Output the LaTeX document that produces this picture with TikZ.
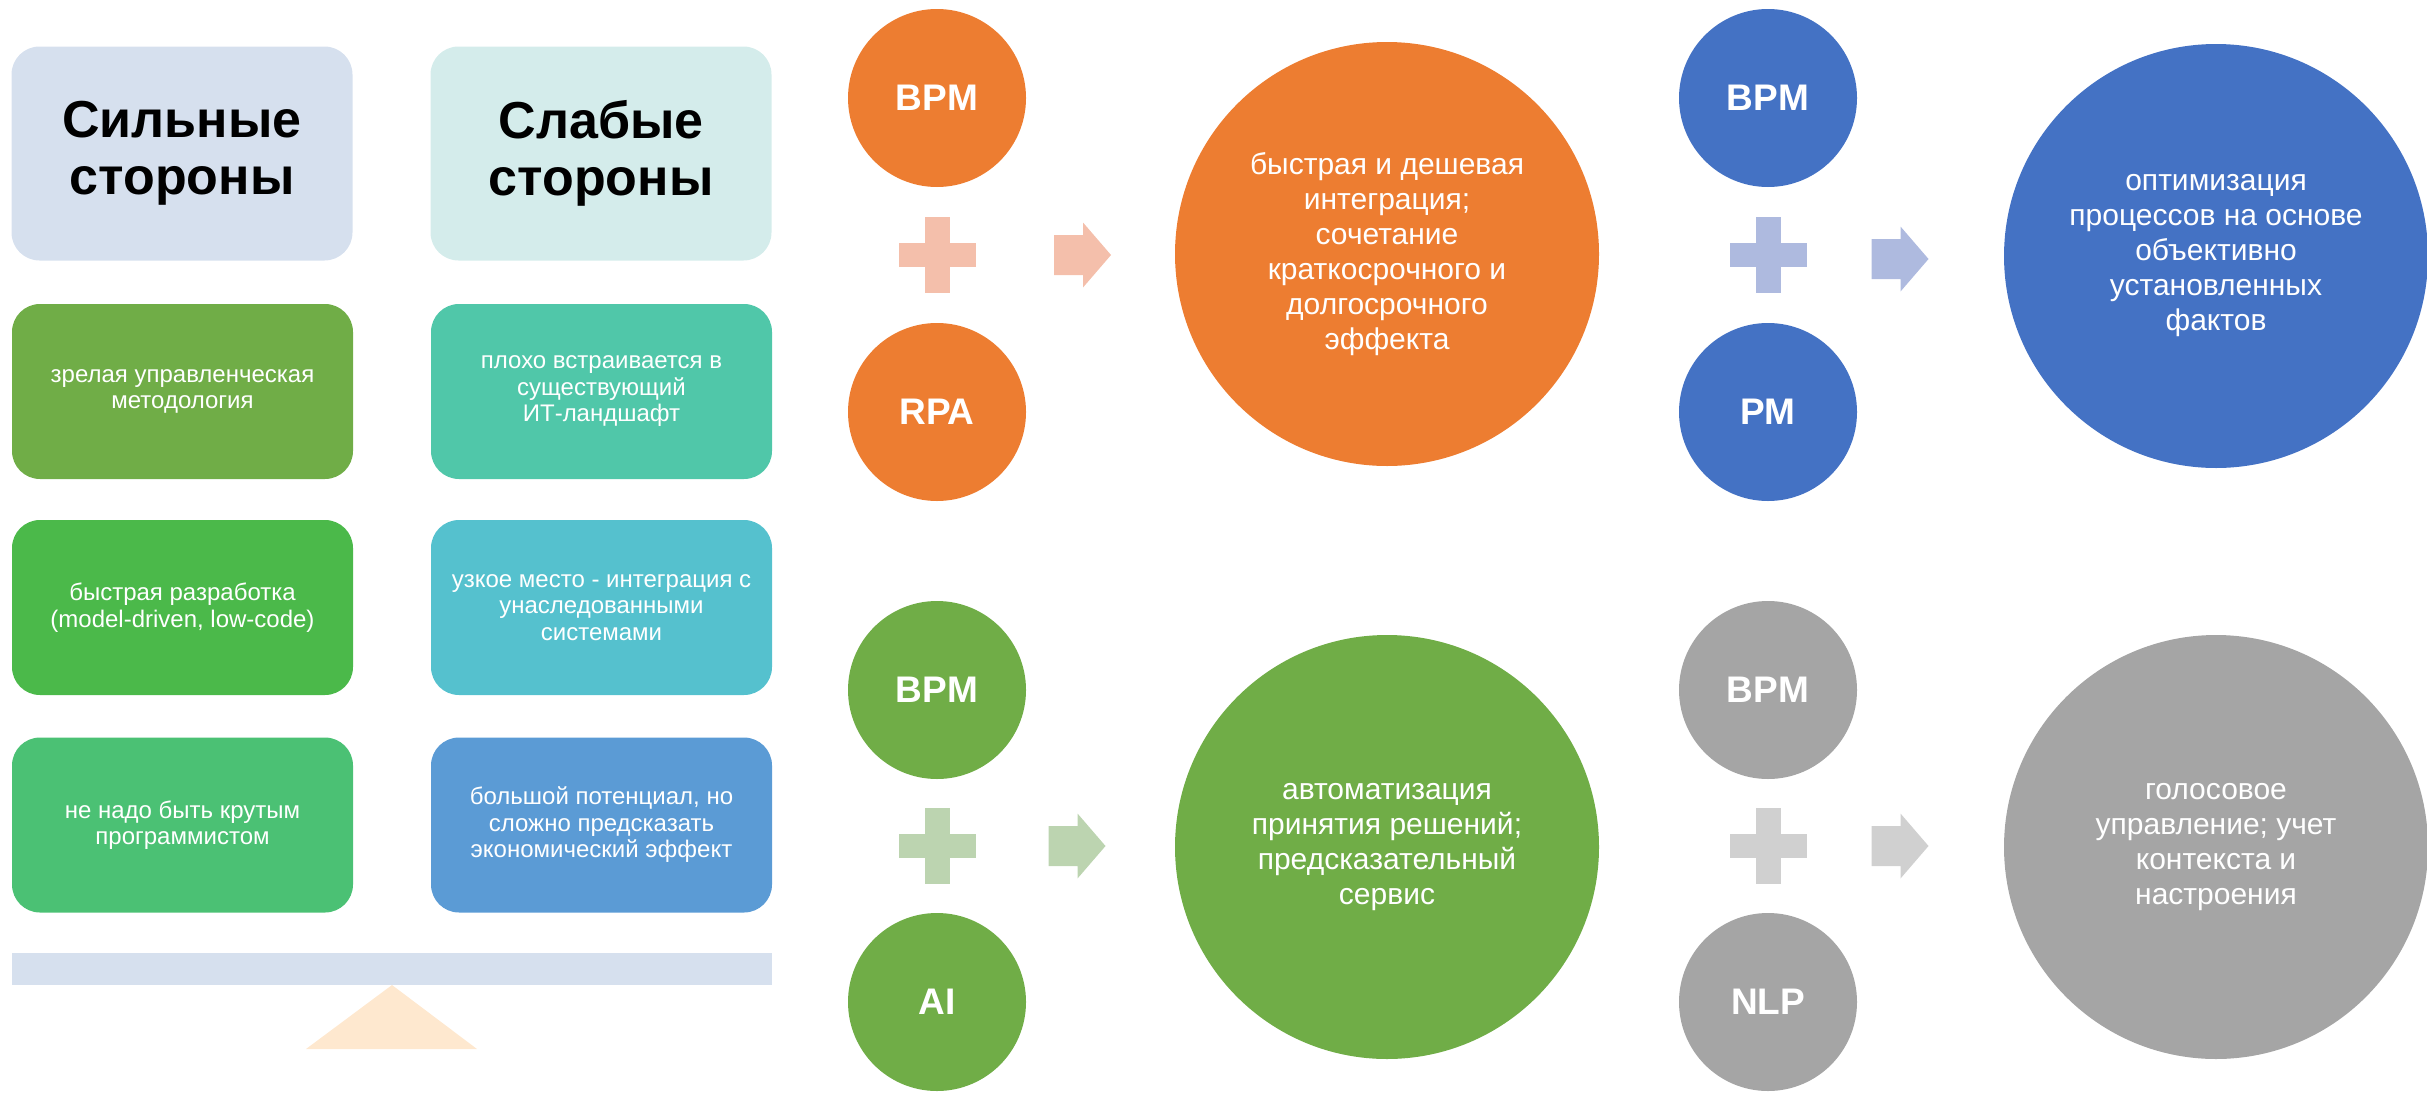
\documentclass[tikz,border=0pt]{standalone}
\usepackage{fontspec}
\setmainfont{Liberation Sans}
\definecolor{hA}{HTML}{D6E0EE}
\definecolor{hB}{HTML}{D4ECEB}
\definecolor{triC}{HTML}{FEE8CF}
\definecolor{rAL}{HTML}{70AD47}
\definecolor{rAR}{HTML}{50C7A9}
\definecolor{rBL}{HTML}{4BB94A}
\definecolor{rBR}{HTML}{55C1CE}
\definecolor{rCL}{HTML}{4BC174}
\definecolor{rCR}{HTML}{5B9BD5}
\definecolor{orn}{HTML}{ED7D31}
\definecolor{ornL}{HTML}{F4BFAB}
\definecolor{blu}{HTML}{4472C4}
\definecolor{bluL}{HTML}{AEBADF}
\definecolor{grn}{HTML}{70AD47}
\definecolor{grnL}{HTML}{BCD4B0}
\definecolor{gry}{HTML}{A5A5A5}
\definecolor{gryL}{HTML}{D0D0D0}
\begin{document}
\begin{tikzpicture}[x=1pt,y=-1pt,
  box/.style={rounded corners=28pt, inner sep=0pt, minimum width=341pt, minimum height=175pt,
    align=center, text=white, font=\fontsize{24}{26.5}\selectfont},
  headbox/.style={box, minimum height=214pt, text=black, font=\bfseries\fontsize{52}{57}\selectfont},
  smallc/.style={circle, minimum size=178pt, inner sep=0pt, text=white, font=\bfseries\fontsize{37}{42}\selectfont},
  bigc/.style={circle, minimum size=424pt, inner sep=0pt, text=white, align=center, font=\fontsize{30}{35}\selectfont},
  plus/.pic={\path[pic actions] (-38.5,-12) rectangle (38.5,12); \path[pic actions] (-12.5,-38) rectangle (12.5,38);},
  rarrow/.pic={\path[pic actions] (-28.5,-20) -- (0.5,-20) -- (0.5,-32.5) -- (28.5,0) -- (0.5,32.5) -- (0.5,20) -- (-28.5,20) -- cycle;}
]
\useasboundingbox (0,0) rectangle (2427,1092);

% left panel
\node[headbox, fill=hA] (h1) at (182,153.5) {Сильные\\стороны};
\node[headbox, fill=hB] (h2) at (601,153.5) {Слабые\\стороны};
\node[box, fill=rAL] (s1) at (182.5,391.5) {зрелая управленческая\\методология};
\node[box, fill=rAR] (w1) at (601.5,391.5) {плохо встраивается в\\существующий\\ИТ-ландшафт};
\node[box, fill=rBL] (s2) at (182.5,607.5) {быстрая разработка\\(model-driven, low-code)};
\node[box, fill=rBR] (w2) at (601.5,607.5) {узкое место - интеграция с\\унаследованными\\системами};
\node[box, fill=rCL] (s3) at (182.5,825) {не надо быть крутым\\программистом};
\node[box, fill=rCR] (w3) at (601.5,825) {большой потенциал, но\\сложно предсказать\\экономический эффект};
\fill[hA] (12,953) rectangle (772,985);
\fill[triC] (392,985) -- (477,1049) -- (306,1049) -- cycle;

% orange group
\node[smallc, fill=orn] (o1) at (937,98) {BPM};
\node[smallc, fill=orn] (o2) at (937,412) {RPA};
\pic[fill=ornL] at (937,255) {plus};
\pic[fill=ornL] at (1082.5,255) {rarrow};
\node[bigc, fill=orn] (o3) at (1387,254) {быстрая и дешевая\\интеграция;\\сочетание\\краткосрочного и\\долгосрочного\\эффекта};

% blue group
\node[smallc, fill=blu] (b1) at (1768,98) {BPM};
\node[smallc, fill=blu] (b2) at (1768,412) {PM};
\pic[fill=bluL] at (1768,255) {plus};
\pic[fill=bluL] at (1900,259) {rarrow};
\node[bigc, fill=blu] (b3) at (2216,256) {оптимизация\\процессов на основе\\объективно\\установленных\\фактов};

% green group
\node[smallc, fill=grn] (g1) at (937,690) {BPM};
\node[smallc, fill=grn] (g2) at (937,1002) {AI};
\pic[fill=grnL] at (937,846) {plus};
\pic[fill=grnL] at (1077,846) {rarrow};
\node[bigc, fill=grn] (g3) at (1387,847) {автоматизация\\принятия решений;\\предсказательный\\сервис};

% gray group
\node[smallc, fill=gry] (k1) at (1768,690) {BPM};
\node[smallc, fill=gry] (k2) at (1768,1002) {NLP};
\pic[fill=gryL] at (1768,846) {plus};
\pic[fill=gryL] at (1900,846) {rarrow};
\node[bigc, fill=gry] (k3) at (2216,847) {голосовое\\управление; учет\\контекста и\\настроения};
\end{tikzpicture}
\end{document}
